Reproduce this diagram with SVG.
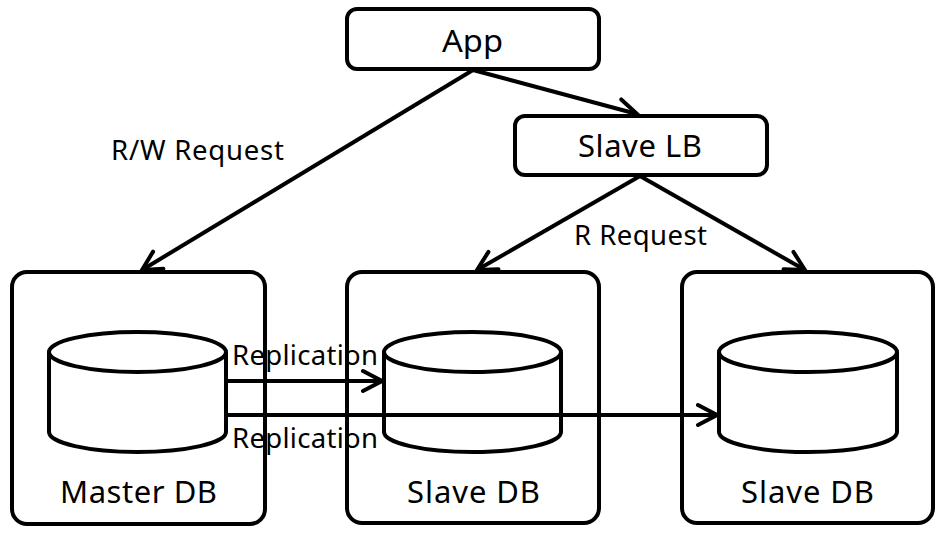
<svg xmlns="http://www.w3.org/2000/svg" width="945" height="534" viewBox="0 0 945 534">
<defs>
<style>
.box{fill:#fff;stroke:#000;stroke-width:4}
.cyl{fill:#fff;stroke:#000;stroke-width:4}
.lbl{font-family:"Noto Sans","Open Sans",sans-serif;fill:#000}
.big{font-size:31px}
.mid{font-size:27.5px}
.con{stroke:#000;stroke-width:4;fill:none;marker-end:url(#arr)}
</style>
<marker id="arr" markerUnits="userSpaceOnUse" viewBox="-24 -14 28 28" refX="0" refY="0" markerWidth="28" markerHeight="28" orient="auto">
<path d="M -19 -10 L 0 0 L -19 10" fill="none" stroke="#000" stroke-width="4" stroke-linecap="round" stroke-linejoin="miter"/>
</marker>
</defs>
<rect width="945" height="534" fill="#fff"/>
<g id="connectors">
<line class="con" x1="473" y1="70" x2="142" y2="270"/>
<line class="con" x1="473" y1="70" x2="637" y2="114"/>
<line class="con" x1="640" y1="176" x2="477" y2="270"/>
<line class="con" x1="640" y1="176" x2="805" y2="270"/>
</g>
<g id="app">
<rect class="box" x="347" y="9" width="252" height="60" rx="10"/>
<text class="lbl big" x="442" y="52" textLength="61" lengthAdjust="spacingAndGlyphs">App</text>
</g>
<g id="slave-lb">
<rect class="box" x="515" y="116" width="252" height="59" rx="10"/>
<text class="lbl big" x="578" y="157" textLength="124" lengthAdjust="spacing">Slave LB</text>
</g>
<g id="master-db">
<rect class="box" x="12" y="272" width="253" height="252" rx="15"/>
<path class="cyl" d="M 49 352 L 49 432 A 88.5 20 0 0 0 226 432 L 226 352"/>
<ellipse class="cyl" cx="137.5" cy="352" rx="88.5" ry="20"/>
<text class="lbl big" x="60" y="503" textLength="157" lengthAdjust="spacing">Master DB</text>
</g>
<g id="slave-db-1">
<rect class="box" x="347" y="272" width="252" height="251" rx="15"/>
<path class="cyl" d="M 384 352 L 384 432 A 88.5 20 0 0 0 561 432 L 561 352"/>
<ellipse class="cyl" cx="472.5" cy="352" rx="88.5" ry="20"/>
<text class="lbl big" x="407" y="503" textLength="133" lengthAdjust="spacing">Slave DB</text>
</g>
<g id="slave-db-2">
<rect class="box" x="682" y="272" width="251" height="251" rx="15"/>
<path class="cyl" d="M 719 352 L 719 432 A 89 20 0 0 0 897 432 L 897 352"/>
<ellipse class="cyl" cx="808" cy="352" rx="89" ry="20"/>
<text class="lbl big" x="741" y="503" textLength="133" lengthAdjust="spacing">Slave DB</text>
</g>
<g id="replication">
<line class="con" x1="226" y1="381" x2="382" y2="381"/>
<line class="con" x1="226" y1="415" x2="717" y2="415"/>
<text class="lbl mid" x="232" y="365" textLength="146" lengthAdjust="spacing">Replication</text>
<text class="lbl mid" x="232" y="448" textLength="146" lengthAdjust="spacing">Replication</text>
</g>
<text class="lbl mid" x="111" y="160" textLength="173" lengthAdjust="spacing">R/W Request</text>
<text class="lbl mid" x="574" y="245" textLength="133" lengthAdjust="spacing">R Request</text>
</svg>
